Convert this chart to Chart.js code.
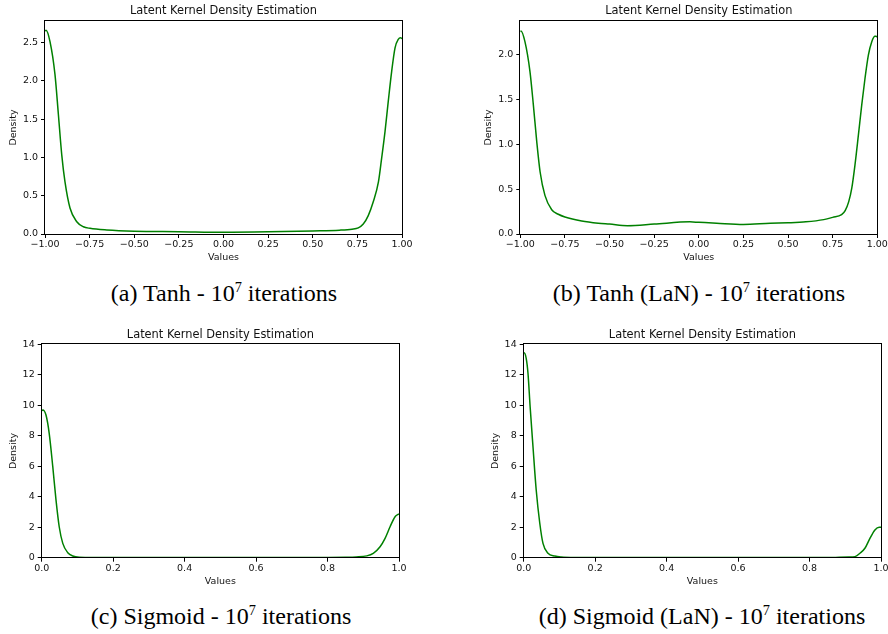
<!DOCTYPE html>
<html>
<head>
<meta charset="utf-8">
<script src="https://cdn.jsdelivr.net/npm/chart.js@4/dist/chart.umd.min.js"></script>
<style>
  body { margin: 0; background: #fff; }
  #page { position: relative; width: 888px; height: 634px; overflow: hidden; background: #fff; }
  canvas { position: absolute; }
  .cap {
    position: absolute; width: 400px; text-align: center;
    font-family: "Liberation Serif", "DejaVu Serif", serif; font-size: 24px;
    line-height: 24px; color: #000; white-space: nowrap;
  }
  .cap span { font-size: 0.6em; position: relative; top: -0.6em; }
</style>
</head>
<body>
<div id="page">
  <canvas id="chartA" width="444" height="263" style="left:0px;top:0px"></canvas>
  <canvas id="chartB" width="444" height="263" style="left:444px;top:0px"></canvas>
  <canvas id="chartC" width="444" height="263" style="left:0px;top:324px"></canvas>
  <canvas id="chartD" width="444" height="263" style="left:444px;top:324px"></canvas>
  <div class="cap" style="left:24px;top:281px">(a) Tanh - 10<span>7</span> iterations</div>
  <div class="cap" style="left:499px;top:281px">(b) Tanh (LaN) - 10<span>7</span> iterations</div>
  <div class="cap" style="left:21px;top:604px">(c) Sigmoid - 10<span>7</span> iterations</div>
  <div class="cap" style="left:502px;top:604px">(d) Sigmoid (LaN) - 10<span>7</span> iterations</div>
</div>
<script>
// (a) Tanh
const tanhX = [-1.0, -0.994, -0.972, -0.944, -0.925, -0.906, -0.888, -0.86, -0.822, -0.785, -0.748, -0.654, -0.5, -0.25, 0, 0.25, 0.5, 0.65, 0.72, 0.755, 0.783, 0.811, 0.839, 0.868, 0.886, 0.905, 0.923, 0.942, 0.961, 0.979, 0.993, 1.0];
const tanhY = [2.65, 2.66, 2.51, 2.08, 1.56, 1.03, 0.68, 0.34, 0.16, 0.095, 0.074, 0.052, 0.036, 0.03, 0.022, 0.028, 0.04, 0.05, 0.063, 0.08, 0.13, 0.24, 0.42, 0.68, 0.99, 1.34, 1.73, 2.12, 2.43, 2.54, 2.56, 2.55];

// (b) Tanh (LaN)
const tanhLanX = [-1.0, -0.996, -0.974, -0.946, -0.927, -0.908, -0.889, -0.862, -0.824, -0.787, -0.75, -0.656, -0.563, -0.5, -0.4, -0.25, -0.05, 0.0, 0.1, 0.25, 0.4, 0.5, 0.6, 0.7, 0.75, 0.8, 0.82, 0.84, 0.857, 0.875, 0.894, 0.913, 0.931, 0.95, 0.969, 0.987, 0.993, 1.0];
const tanhLanY = [2.25, 2.26, 2.14, 1.81, 1.44, 1.03, 0.69, 0.43, 0.27, 0.22, 0.19, 0.145, 0.12, 0.11, 0.093, 0.11, 0.135, 0.13, 0.12, 0.107, 0.12, 0.125, 0.135, 0.16, 0.185, 0.215, 0.26, 0.36, 0.51, 0.77, 1.10, 1.44, 1.73, 1.99, 2.14, 2.2, 2.2, 2.19];

// (c) Sigmoid
const sigX = [0, 0.003, 0.012, 0.021, 0.031, 0.04, 0.049, 0.059, 0.073, 0.087, 0.105, 0.15, 0.3, 0.5, 0.7, 0.85, 0.88, 0.91, 0.928, 0.947, 0.961, 0.975, 0.989, 1.0];
const sigY = [9.65, 9.69, 9.36, 8.16, 5.97, 3.79, 2.03, 0.94, 0.33, 0.11, 0.03, 0.01, 0.005, 0.005, 0.01, 0.03, 0.05, 0.12, 0.29, 0.72, 1.27, 2.03, 2.69, 2.87];

// (d) Sigmoid (LaN)
const sigLanX = [0, 0.001, 0.007, 0.012, 0.018, 0.026, 0.035, 0.045, 0.054, 0.068, 0.087, 0.105, 0.15, 0.3, 0.5, 0.7, 0.85, 0.91, 0.927, 0.941, 0.955, 0.969, 0.983, 0.995, 1.0];
const sigLanY = [13.4, 13.45, 13.08, 12.1, 9.9, 7.28, 4.44, 2.26, 0.94, 0.29, 0.11, 0.05, 0.02, 0.01, 0.005, 0.005, 0.01, 0.05, 0.07, 0.29, 0.62, 1.27, 1.82, 2.0, 2.0];

// tick labels
const tanhXTicks = [-1, -0.75, -0.5, -0.25, 0, 0.25, 0.5, 0.75, 1];
const sigXTicks = [0, 0.2, 0.4, 0.6, 0.8, 1];
const tanhYTicks = [0, 0.5, 1.0, 1.5, 2.0, 2.5];
const tanhLanYTicks = [0, 0.5, 1.0, 1.5, 2.0];
const sigYTicks = [0, 2, 4, 6, 8, 10, 12, 14];

const titleText = 'Latent Kernel Density Estimation';

Chart.defaults.font.family = '"DejaVu Sans", sans-serif';
Chart.defaults.color = '#111';

const framePlugin = {
    id: 'frame',
    afterDraw(chart) {
        const a = chart.chartArea;
        const ctx = chart.ctx;
        ctx.save();
        ctx.strokeStyle = '#000';
        ctx.lineWidth = 1;
        ctx.strokeRect(Math.round(a.left) - 0.5, Math.round(a.top) - 0.5, Math.round(a.right - a.left) + 1, Math.round(a.bottom - a.top) + 1);
        ctx.restore();
    }
};

function fmtMinus(s) { return s.replace('-', '\u2212'); }

function makeChart(id, xs, ys, xTicks, yTicks, xMin, xMax, yMax, xDec, yDec, box) {
    const points = xs.map((x, i) => ({ x: x, y: ys[i] }));
    const lh = 9.5 * 1.2;
    const th = 11.4 * 1.2;
    const padLeft = box.densityX - lh / 2;
    return new Chart(document.getElementById(id), {
        type: 'line',
        data: {
            datasets: [{
                data: points,
                borderColor: '#008000',
                borderWidth: 1.5,
                pointRadius: 0,
                fill: false,
                cubicInterpolationMode: 'monotone'
            }]
        },
        plugins: [framePlugin],
        options: {
            responsive: false,
            animation: false,
            events: [],
            layout: { padding: { left: padLeft, right: 444 - box.right, top: 0, bottom: 0 } },
            plugins: {
                legend: { display: false },
                tooltip: { enabled: false },
                title: {
                    display: true,
                    fullSize: false,
                    text: titleText,
                    font: { size: 11.4, weight: 'normal' },
                    color: '#111',
                    padding: { top: box.titleY - th / 2, bottom: box.top - (box.titleY - th / 2) - th }
                }
            },
            scales: {
                x: {
                    type: 'linear',
                    min: xMin,
                    max: xMax,
                    border: { display: false },
                    grid: { drawOnChartArea: false, drawTicks: true, tickLength: 4, color: '#000' },
                    ticks: {
                        autoSkip: false, maxRotation: 0, padding: 1,
                        font: { size: 9.5 },
                        callback: v => fmtMinus(Number(v).toFixed(xDec))
                    },
                    title: { display: true, text: 'Values', font: { size: 9.5 }, padding: 0 },
                    afterBuildTicks: s => { s.ticks = xTicks.map(v => ({ value: v })); },
                    afterFit: s => { s.height = 263 - box.bottom; s.paddingLeft = 0; s.paddingRight = 0; }
                },
                y: {
                    type: 'linear',
                    min: 0,
                    max: yMax,
                    border: { display: false },
                    grid: { drawOnChartArea: false, drawTicks: true, tickLength: 4, color: '#000' },
                    ticks: {
                        padding: 3,
                        font: { size: 9.5 },
                        callback: v => Number(v).toFixed(yDec)
                    },
                    title: { display: true, text: 'Density', font: { size: 9.5 }, padding: 0 },
                    afterBuildTicks: s => { s.ticks = yTicks.map(v => ({ value: v })); },
                    afterFit: s => { s.width = box.left - padLeft; s.paddingTop = 0; s.paddingBottom = 0; }
                }
            }
        }
    });
}

makeChart('chartA', tanhX, tanhY, tanhXTicks, tanhYTicks, -1, 1, 2.78, 2, 1,
    { left: 45, right: 402, top: 21, bottom: 234, titleY: 11, densityX: 14 });
makeChart('chartB', tanhLanX, tanhLanY, tanhXTicks, tanhLanYTicks, -1, 1, 2.37, 2, 1,
    { left: 76.3, right: 433.3, top: 21, bottom: 234, titleY: 11, densityX: 45 });
makeChart('chartC', sigX, sigY, sigXTicks, sigYTicks, 0, 1, 14, 1, 0,
    { left: 41.7, right: 399, top: 20.3, bottom: 233.7, titleY: 10.7, densityX: 14 });
makeChart('chartD', sigLanX, sigLanY, sigXTicks, sigYTicks, 0, 1, 14, 1, 0,
    { left: 79.7, right: 437, top: 20.3, bottom: 233.7, titleY: 10.7, densityX: 51.7 });
</script>
</body>
</html>
